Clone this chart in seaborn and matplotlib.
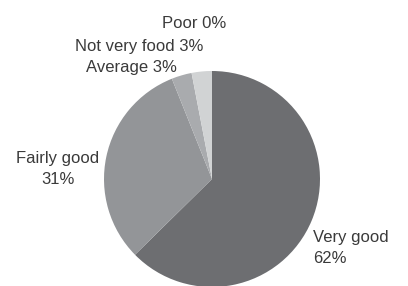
import matplotlib
matplotlib.use("Agg")
import matplotlib.pyplot as plt
import seaborn as sns

sns.set_theme(style="white")
plt.rcParams['font.family'] = ['Liberation Sans', 'DejaVu Sans']

categories = ["Very good", "Fairly good", "Average", "Not very food", "Poor"]
values = [62, 31, 3, 3, 0]
colors = ["#6d6e71", "#939598", "#a9abae", "#d1d3d4", "#e6e7e8"]

W, H = 408, 286
fig = plt.figure(figsize=(W / 100, H / 100), dpi=100)
cx, cy, r = 212, 179, 108
ax = fig.add_axes([(cx - r) / W, (H - cy - r) / H, 2 * r / W, 2 * r / H])
ax.pie(values, colors=colors, startangle=90, counterclock=False, radius=1,
       wedgeprops=dict(linewidth=0))
ax.set_xlim(-1, 1)
ax.set_ylim(-1, 1)
ax.set_aspect("equal")
ax.axis("off")

tc = "#3a3a3a"
fs = 12
def lab(x, y, s, ha="center", va="center"):
    fig.text(x / W, 1 - y / H, s, ha=ha, va=va, fontsize=fs, color=tc, linespacing=1.5)

lab(194, 23, f"{categories[4]} {values[4]}%")
lab(139, 47, f"{categories[3]} {values[3]}%")
lab(131, 68, f"{categories[2]} {values[2]}%")
lab(58, 169, f"{categories[1]}\n{values[1]}%")
lab(313, 248, f"{categories[0]}\n{values[0]}%", ha="left")

fig.savefig("out.png", dpi=100)
